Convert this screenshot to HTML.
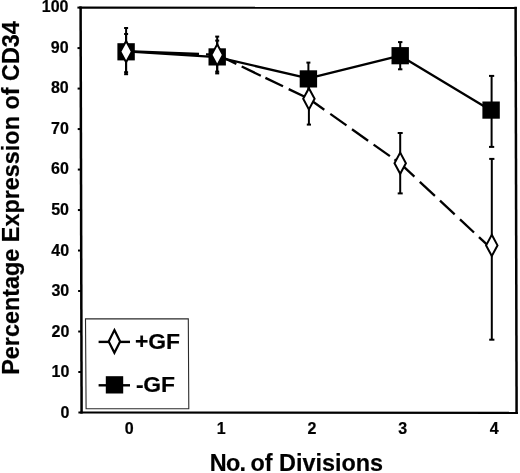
<!DOCTYPE html>
<html><head><meta charset="utf-8"><title>Percentage Expression of CD34</title>
<style>
html,body{margin:0;padding:0;background:#fff;}
body{width:520px;height:473px;overflow:hidden;}
svg{display:block;}
text{font-family:"Liberation Sans",Arial,sans-serif;font-weight:bold;fill:#000;}
.tk{font-size:16px;}
text{stroke:#000;stroke-width:0.2px;stroke-linejoin:round;}
</style></head><body>
<svg width="520" height="473" viewBox="0 0 520 473">
<rect x="0" y="0" width="520" height="473" fill="#fff"/>

<line x1="80.6" y1="6.55" x2="81.6" y2="413.55" stroke="#000" stroke-width="2.5"/>
<line x1="515.6" y1="6.85" x2="516.6" y2="413.90" stroke="#000" stroke-width="2.5"/>
<line x1="79.40" y1="7.6" x2="516.80" y2="7.9" stroke="#000" stroke-width="2.1"/>
<line x1="80.40" y1="412.5" x2="517.80" y2="412.85" stroke="#000" stroke-width="2.1"/>
<line x1="78.40" y1="412.50" x2="81.60" y2="412.50" stroke="#000" stroke-width="2"/>
<text class="tk" x="69.50" y="417.80" text-anchor="end">0</text>
<line x1="78.30" y1="372.01" x2="81.50" y2="372.01" stroke="#000" stroke-width="2"/>
<text class="tk" x="69.40" y="377.23" text-anchor="end">10</text>
<line x1="78.20" y1="331.52" x2="81.40" y2="331.52" stroke="#000" stroke-width="2"/>
<text class="tk" x="69.30" y="336.66" text-anchor="end">20</text>
<line x1="78.10" y1="291.03" x2="81.30" y2="291.03" stroke="#000" stroke-width="2"/>
<text class="tk" x="69.20" y="296.09" text-anchor="end">30</text>
<line x1="78.00" y1="250.54" x2="81.20" y2="250.54" stroke="#000" stroke-width="2"/>
<text class="tk" x="69.10" y="255.52" text-anchor="end">40</text>
<line x1="77.90" y1="210.05" x2="81.10" y2="210.05" stroke="#000" stroke-width="2"/>
<text class="tk" x="69.00" y="214.95" text-anchor="end">50</text>
<line x1="77.80" y1="169.56" x2="81.00" y2="169.56" stroke="#000" stroke-width="2"/>
<text class="tk" x="68.90" y="174.38" text-anchor="end">60</text>
<line x1="77.70" y1="129.07" x2="80.90" y2="129.07" stroke="#000" stroke-width="2"/>
<text class="tk" x="68.80" y="133.81" text-anchor="end">70</text>
<line x1="77.60" y1="88.58" x2="80.80" y2="88.58" stroke="#000" stroke-width="2"/>
<text class="tk" x="68.70" y="93.24" text-anchor="end">80</text>
<line x1="77.50" y1="48.09" x2="80.70" y2="48.09" stroke="#000" stroke-width="2"/>
<text class="tk" x="68.60" y="52.67" text-anchor="end">90</text>
<line x1="77.40" y1="7.60" x2="80.60" y2="7.60" stroke="#000" stroke-width="2"/>
<text class="tk" x="68.50" y="12.10" text-anchor="end">100</text>
<text class="tk" x="129.2" y="433.5" text-anchor="middle">0</text>
<text class="tk" x="221.1" y="433.5" text-anchor="middle">1</text>
<text class="tk" x="312.0" y="433.5" text-anchor="middle">2</text>
<text class="tk" x="402.7" y="433.5" text-anchor="middle">3</text>
<text class="tk" x="494.2" y="433.5" text-anchor="middle">4</text>
<text y="471" style="font-size:23.4px"><tspan x="209.8" style="letter-spacing:-0.8px">No.</tspan> <tspan x="250.5">of</tspan> <tspan x="279.1">Divisions</tspan></text>
<text transform="translate(19.1,374.8) rotate(-90)" text-anchor="start" style="font-size:23.4px">Percentage Expression of CD34</text>
<polygon points="85.5,318.8 188.3,318.9 188.8,408.8 86.1,408.7" fill="#fff" stroke="#2a2a2a" stroke-width="1.1"/>
<polyline points="126.1,51.3 217.2,57.2 308.4,78.3 400.2,55.7 491.1,110.5" fill="none" stroke="#000" stroke-width="2.3" stroke-linejoin="round"/>
<line x1="126.1" y1="51.2" x2="199.0" y2="54.0" stroke="#000" stroke-width="2.3"/>
<line x1="206.0" y1="54.3" x2="217.2" y2="54.7" stroke="#000" stroke-width="2.3"/>
<line x1="217.2" y1="54.7" x2="236.4" y2="63.9" stroke="#000" stroke-width="2.3"/>
<line x1="241.7" y1="66.5" x2="260.8" y2="75.7" stroke="#000" stroke-width="2.3"/>
<line x1="265.4" y1="77.9" x2="283.0" y2="86.3" stroke="#000" stroke-width="2.3"/>
<line x1="288.7" y1="89.1" x2="308.9" y2="98.8" stroke="#000" stroke-width="2.3"/>
<line x1="308.9" y1="98.8" x2="324.3" y2="109.7" stroke="#000" stroke-width="2.3"/>
<line x1="330.3" y1="113.9" x2="346.5" y2="125.4" stroke="#000" stroke-width="2.3"/>
<line x1="352.0" y1="129.3" x2="368.1" y2="140.7" stroke="#000" stroke-width="2.3"/>
<line x1="373.6" y1="144.6" x2="389.9" y2="156.1" stroke="#000" stroke-width="2.3"/>
<line x1="394.5" y1="159.4" x2="400.2" y2="163.4" stroke="#000" stroke-width="2.3"/>
<line x1="400.2" y1="163.4" x2="414.4" y2="176.7" stroke="#000" stroke-width="2.3"/>
<line x1="419.8" y1="181.8" x2="434.9" y2="195.9" stroke="#000" stroke-width="2.3"/>
<line x1="440.0" y1="200.7" x2="454.7" y2="214.4" stroke="#000" stroke-width="2.3"/>
<line x1="460.0" y1="219.4" x2="474.0" y2="232.5" stroke="#000" stroke-width="2.3"/>
<line x1="479.0" y1="237.2" x2="491.8" y2="249.2" stroke="#000" stroke-width="2.3"/>
<line x1="126.1" y1="34.0" x2="126.1" y2="72.2" stroke="#000" stroke-width="2.0"/>
<line x1="124.1" y1="34.0" x2="128.1" y2="34.0" stroke="#000" stroke-width="2"/>
<line x1="124.1" y1="72.2" x2="128.1" y2="72.2" stroke="#000" stroke-width="2"/>
<line x1="217.2" y1="40.6" x2="217.2" y2="71.6" stroke="#000" stroke-width="2.0"/>
<line x1="215.2" y1="40.6" x2="219.2" y2="40.6" stroke="#000" stroke-width="2"/>
<line x1="215.2" y1="71.6" x2="219.2" y2="71.6" stroke="#000" stroke-width="2"/>
<line x1="308.4" y1="62.6" x2="308.4" y2="96.0" stroke="#000" stroke-width="2.0"/>
<line x1="306.4" y1="62.6" x2="310.4" y2="62.6" stroke="#000" stroke-width="2"/>
<line x1="306.4" y1="96.0" x2="310.4" y2="96.0" stroke="#000" stroke-width="2"/>
<line x1="400.2" y1="42.1" x2="400.2" y2="69.3" stroke="#000" stroke-width="2.0"/>
<line x1="398.0" y1="42.1" x2="402.4" y2="42.1" stroke="#000" stroke-width="2"/>
<line x1="398.0" y1="69.3" x2="402.4" y2="69.3" stroke="#000" stroke-width="2"/>
<line x1="491.6" y1="75.9" x2="491.6" y2="146.9" stroke="#000" stroke-width="2.0"/>
<line x1="489.0" y1="75.9" x2="494.2" y2="75.9" stroke="#000" stroke-width="2"/>
<line x1="489.0" y1="146.9" x2="494.2" y2="146.9" stroke="#000" stroke-width="2"/>
<rect x="117.4" y="43.2" width="17.4" height="17.2" fill="#000"/>
<rect x="208.5" y="48.3" width="17.4" height="17.2" fill="#000"/>
<rect x="299.7" y="70.3" width="17.4" height="17.2" fill="#000"/>
<rect x="391.5" y="47.1" width="17.4" height="17.2" fill="#000"/>
<rect x="482.4" y="101.5" width="17.4" height="17.2" fill="#000"/>
<line x1="126.1" y1="28.0" x2="126.1" y2="74.2" stroke="#000" stroke-width="2.0"/>
<line x1="124.1" y1="28.0" x2="128.1" y2="28.0" stroke="#000" stroke-width="2"/>
<line x1="124.1" y1="74.2" x2="128.1" y2="74.2" stroke="#000" stroke-width="2"/>
<line x1="217.2" y1="36.6" x2="217.2" y2="73.4" stroke="#000" stroke-width="2.0"/>
<line x1="215.2" y1="36.6" x2="219.2" y2="36.6" stroke="#000" stroke-width="2"/>
<line x1="215.2" y1="73.4" x2="219.2" y2="73.4" stroke="#000" stroke-width="2"/>
<line x1="308.9" y1="72.0" x2="308.9" y2="124.6" stroke="#000" stroke-width="2.0"/>
<line x1="306.8" y1="72.0" x2="311.0" y2="72.0" stroke="#000" stroke-width="2"/>
<line x1="306.8" y1="124.6" x2="311.0" y2="124.6" stroke="#000" stroke-width="2"/>
<line x1="400.2" y1="133.0" x2="400.2" y2="193.4" stroke="#000" stroke-width="2.0"/>
<line x1="397.7" y1="133.0" x2="402.7" y2="133.0" stroke="#000" stroke-width="2"/>
<line x1="397.7" y1="193.4" x2="402.7" y2="193.4" stroke="#000" stroke-width="2"/>
<line x1="491.8" y1="158.9" x2="491.8" y2="339.7" stroke="#000" stroke-width="2.0"/>
<line x1="489.2" y1="158.9" x2="494.4" y2="158.9" stroke="#000" stroke-width="2"/>
<line x1="489.2" y1="339.7" x2="494.4" y2="339.7" stroke="#000" stroke-width="2"/>
<polygon points="126.1,41.0 131.8,51.6 126.1,62.2 120.4,51.6" fill="#fff" stroke="#000" stroke-width="2.0" stroke-miterlimit="6"/>
<polygon points="217.2,44.3 222.9,54.9 217.2,65.5 211.5,54.9" fill="#fff" stroke="#000" stroke-width="2.0" stroke-miterlimit="6"/>
<polygon points="308.9,88.2 314.6,98.8 308.9,109.4 303.2,98.8" fill="#fff" stroke="#000" stroke-width="2.0" stroke-miterlimit="6"/>
<polygon points="400.2,152.6 405.9,163.2 400.2,173.8 394.5,163.2" fill="#fff" stroke="#000" stroke-width="2.0" stroke-miterlimit="6"/>
<polygon points="491.8,234.8 497.5,245.4 491.8,256.0 486.1,245.4" fill="#fff" stroke="#000" stroke-width="2.0" stroke-miterlimit="6"/>
<line x1="98.6" y1="341.9" x2="130" y2="341.9" stroke="#000" stroke-width="2.4"/>
<polygon points="114.4,330.1 120.1,341.4 114.4,352.7 108.7,341.4" fill="#fff" stroke="#000" stroke-width="2.2" stroke-miterlimit="6"/>
<line x1="98.6" y1="385.3" x2="130" y2="385.3" stroke="#000" stroke-width="2.4"/>
<rect x="105.8" y="376.2" width="17.4" height="17.3" fill="#000"/>
<text x="135.1" y="349.2" style="font-size:22.9px;letter-spacing:-0.1px">+GF</text>
<text x="135.9" y="392.0" style="font-size:22.9px;letter-spacing:-0.2px">-GF</text>
</svg></body></html>
